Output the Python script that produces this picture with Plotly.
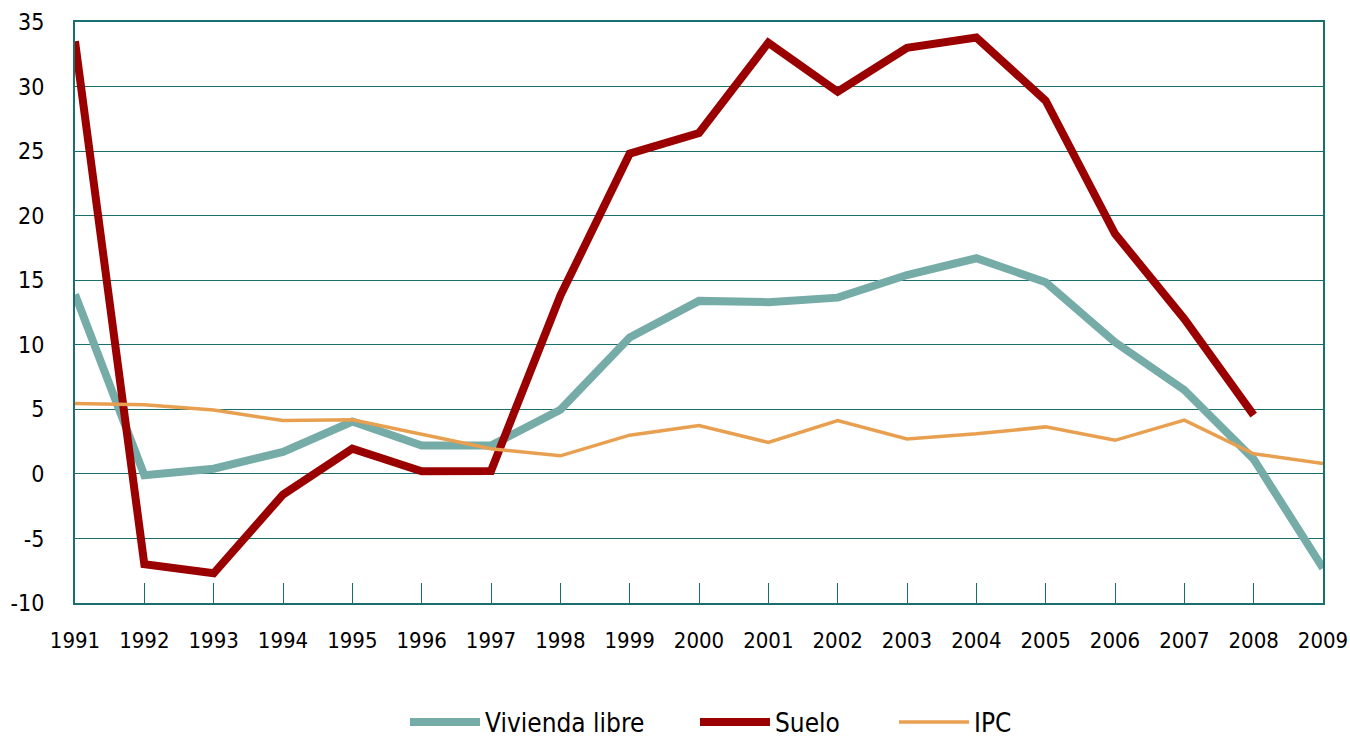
import plotly.graph_objects as go

years = list(range(1991, 2010))
vivienda = [13.9, -0.1, 0.4, 1.7, 4.06, 2.2, 2.2, 4.97, 10.56, 13.4, 13.3, 13.65, 15.4, 16.7, 14.85, 10.2, 6.5, 1.14, -7.3]
suelo = [33.5, -7.0, -7.7, -1.6, 1.95, 0.2, 0.23, 13.8, 24.8, 26.4, 33.4, 29.6, 33.0, 33.8, 28.9, 18.6, 12.0, 4.55]
ipc = [5.46, 5.36, 4.94, 4.13, 4.19, 3.1, 1.95, 1.4, 3.0, 3.74, 2.44, 4.13, 2.7, 3.1, 3.64, 2.6, 4.16, 1.56, 0.81]
y_ticks = list(range(-10, 40, 5))

teal_grid = "#1A6E6E"
W, H = 1350, 737

fig = go.Figure()
fig.add_trace(go.Scatter(x=years, y=vivienda, mode="lines", name="Vivienda libre", legend="legend",
                         line=dict(color="#76ACA8", width=8)))
fig.add_trace(go.Scatter(x=years[:len(suelo)], y=suelo, mode="lines", name="Suelo", legend="legend2",
                         line=dict(color="#9B0000", width=8)))
fig.add_trace(go.Scatter(x=years, y=ipc, mode="lines", name="IPC", legend="legend3",
                         line=dict(color="#E8A050", width=3.5)))

def leg(px):
    return dict(orientation="h", xref="container", yref="container",
                x=px / W, xanchor="left", y=15 / H, yanchor="middle",
                font=dict(family="DejaVu Sans Condensed", size=26, color="black"),
                itemwidth=70, bgcolor="rgba(0,0,0,0)")

fig.update_layout(
    width=W, height=H,
    margin=dict(l=75, r=27, t=22, b=134),
    paper_bgcolor="white", plot_bgcolor="white",
    font=dict(family="DejaVu Sans Condensed", color="black"),
    showlegend=True,
    legend=leg(405), legend2=leg(695), legend3=leg(894),
    xaxis=dict(range=[1991, 2009], tickmode="array", tickvals=years, ticktext=[str(y) for y in years],
               showgrid=False, zeroline=False, showline=True, mirror=True, linecolor=teal_grid, linewidth=2,
               ticks="inside", ticklen=20, tickcolor=teal_grid, tickwidth=1, automargin=False,
               tickfont=dict(size=22, family="DejaVu Sans Condensed"), ticklabelstandoff=17),
    yaxis=dict(range=[-10, 35], tickmode="array", tickvals=y_ticks, ticktext=[str(v) for v in y_ticks],
               showgrid=True, gridcolor=teal_grid, gridwidth=1, zeroline=False, automargin=False,
               showline=True, mirror=True, linecolor=teal_grid, linewidth=2, ticks="",
               tickfont=dict(size=23, family="DejaVu Sans Condensed"), ticklabelstandoff=24),
)

fig.write_html("out.html", config={"displayModeBar": False},
               post_script="document.body.style.margin='0px';")
